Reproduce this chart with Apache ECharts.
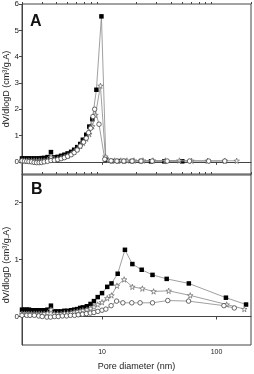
<!DOCTYPE html>
<html><head><meta charset="utf-8">
<script src="https://cdn.jsdelivr.net/npm/echarts@6/dist/echarts.min.js"></script>
<style>html,body{margin:0;padding:0;background:#fff}#c{width:254px;height:374px}</style>
</head><body><div id="c"></div>
<script>
// Panel A: [pore diameter (nm), dV/dlogD]
var squaresA = [[2.0,0.13],[2.1,0.13],[2.2,0.13],[2.3,0.13],[2.42,0.13],[2.55,0.13],[2.68,0.13],[2.82,0.13],[2.96,0.14],[3.12,0.15],[3.34,0.18],[3.58,0.37],[3.83,0.17],[4.1,0.19],[4.39,0.23],[4.69,0.27],[5.01,0.32],[5.37,0.38],[5.71,0.46],[6.07,0.56],[6.45,0.68],[6.8,0.84],[7.28,1.03],[7.74,1.34],[8.23,1.62],[8.93,2.74],[9.88,5.53],[10.8,0.08],[12.2,0.03],[13.8,0.03],[15.6,0.03],[18.3,0.03],[21.9,0.03],[26.8,0.02],[35,0.02],[50.2,0.02]];
var circlesA = [[2.0,0.04],[2.1,0.03],[2.2,0.02],[2.3,0.01],[2.42,0.0],[2.55,-0.02],[2.68,-0.03],[2.82,-0.03],[2.96,-0.02],[3.12,0.0],[3.34,0.02],[3.58,0.05],[3.83,0.06],[4.1,0.09],[4.39,0.12],[4.69,0.16],[5.01,0.21],[5.37,0.27],[5.71,0.35],[6.07,0.45],[6.45,0.6],[6.9,0.75],[7.28,0.9],[7.63,1.11],[7.95,1.28],[8.33,1.72],[8.62,2.0],[9.41,1.43],[10.56,0.1],[12.0,0.04],[13.5,0.03],[15.5,0.03],[18.3,0.03],[21.9,0.03],[27.4,0.03],[37.1,0.03],[58.1,0.03],[85.4,0.03],[118,0.03]];
var starsA = [[2.0,0.05],[2.1,0.05],[2.2,0.05],[2.3,0.05],[2.42,0.05],[2.55,0.05],[2.68,0.05],[2.82,0.05],[2.96,0.05],[3.12,0.05],[3.34,0.08],[3.58,0.18],[3.83,0.1],[4.1,0.12],[4.39,0.15],[4.69,0.19],[5.01,0.24],[5.37,0.3],[5.71,0.38],[6.07,0.48],[6.45,0.6],[6.8,0.72],[7.28,0.88],[7.74,1.05],[8.23,1.35],[8.76,1.78],[9.68,2.89],[10.7,0.2],[11.4,0.06],[12.9,0.05],[14.6,0.05],[16.5,0.05],[19.0,0.05],[22.8,0.05],[27.9,0.05],[35.7,0.05],[47.4,0.05],[60.5,0.04],[83.5,0.04],[118,0.04],[150,0.04]];
// Panel B
var squaresB = [[2.0,0.12],[2.1,0.12],[2.2,0.12],[2.3,0.12],[2.42,0.11],[2.55,0.11],[2.68,0.11],[2.82,0.11],[2.96,0.11],[3.12,0.11],[3.34,0.12],[3.58,0.19],[3.83,0.09],[4.1,0.09],[4.39,0.09],[4.69,0.1],[5.01,0.1],[5.37,0.11],[5.71,0.12],[6.07,0.13],[6.45,0.15],[6.8,0.16],[7.37,0.18],[7.94,0.22],[8.5,0.27],[9.17,0.34],[10,0.41],[11.1,0.52],[12.1,0.58],[13.7,0.75],[15.85,1.17],[18.4,0.92],[22.2,0.82],[27.6,0.73],[36.7,0.66],[57.3,0.58],[120.8,0.33],[181,0.21]];
var starsB = [[2.0,0.05],[2.1,0.05],[2.2,0.05],[2.3,0.05],[2.42,0.05],[2.55,0.05],[2.68,0.05],[2.82,0.05],[2.96,0.05],[3.12,0.05],[3.34,0.06],[3.58,0.12],[3.83,0.05],[4.1,0.05],[4.39,0.05],[4.69,0.06],[5.01,0.06],[5.37,0.07],[5.71,0.08],[6.07,0.09],[6.45,0.1],[6.8,0.11],[7.37,0.12],[7.94,0.14],[8.5,0.17],[9.17,0.21],[10,0.25],[11.1,0.32],[12.1,0.37],[13.5,0.54],[15.6,0.65],[18.4,0.52],[22.5,0.49],[28.2,0.44],[38.2,0.45],[58.9,0.37],[122.6,0.21],[174.8,0.13]];
var circlesB = [[2.0,0.02],[2.2,0.02],[2.35,0.02],[2.56,0.02],[2.8,0.01],[3.0,0.0],[3.3,-0.01],[3.55,-0.01],[3.85,0.0],[4.15,0.0],[4.5,0.01],[4.9,0.01],[5.3,0.02],[5.75,0.02],[6.2,0.03],[6.75,0.04],[7.3,0.05],[7.9,0.06],[8.5,0.07],[9.2,0.09],[10,0.11],[10.8,0.13],[12.0,0.19],[13.4,0.27],[15.2,0.24],[18.2,0.24],[21.5,0.24],[27.6,0.24],[37.5,0.28],[57,0.27],[116,0.19],[143,0.15]];

var xMajor = [10, 100];
var xMinor = [2,3,4,5,6,7,8,9,20,30,40,50,60,70,80,90,200];
var yTicksA = [0,1,2,3,4,5,6];
var yTicksB = [0,1,2];
var yTitle = 'dV/dlogD (cm³/g.A)';

var FONT = 'Liberation Sans, Arial, sans-serif';
var AX = '#444';
var starPath = 'path://M50,0 L61,35 L98,35 L68,57 L79,91 L50,70 L21,91 L32,57 L2,35 L39,35 Z';

function xAxes(gridIndex, showLabels) {
  return [{
    type: 'log', logBase: 10, min: 2, max: 200, gridIndex: gridIndex,
    axisLine: {show: true, lineStyle: {color: AX, width: 1}},
    axisTick: {show: true, customValues: xMajor, length: 3, lineStyle: {color: AX}},
    axisLabel: {show: showLabels, customValues: xMajor, fontSize: 7, color: '#222', fontFamily: FONT, margin: 4},
    splitLine: {show: false}, minorTick: {show: false},
    name: showLabels ? 'Pore diameter (nm)' : '', nameLocation: 'middle', nameGap: 17,
    nameTextStyle: {fontSize: 9, color: '#222', fontFamily: FONT}
  }, {
    type: 'log', logBase: 10, min: 2, max: 200, gridIndex: gridIndex,
    axisLine: {show: false},
    axisTick: {show: true, customValues: xMinor, length: 2, lineStyle: {color: AX}},
    axisLabel: {show: false}, splitLine: {show: false}
  }];
}
function yAxis(gridIndex, min, max, ticks) {
  return {
    type: 'value', min: min, max: max, gridIndex: gridIndex,
    axisLine: {show: true, lineStyle: {color: AX, width: 1}},
    axisTick: {show: true, customValues: ticks, length: 3, lineStyle: {color: AX}},
    axisLabel: {customValues: ticks, fontSize: 8, color: '#222', fontFamily: FONT, margin: 3},
    splitLine: {show: false}
  };
}
function ser(data, kind, xi, yi) {
  var base = {type: 'line', data: data, xAxisIndex: xi, yAxisIndex: yi, silent: true, animation: false,
    lineStyle: {color: '#888', width: 0.8}, z: 2};
  if (kind === 'sq') { base.symbol = 'rect'; base.symbolSize = 4.5; base.itemStyle = {color: '#000', borderWidth: 0}; }
  if (kind === 'ci') { base.symbol = 'circle'; base.symbolSize = 4.5; base.itemStyle = {color: '#fff', borderColor: '#444', borderWidth: 0.8}; base.z = 4; }
  if (kind === 'st') { base.symbol = starPath; base.symbolSize = 5.5; base.itemStyle = {color: '#fff', borderColor: '#666', borderWidth: 0.7}; base.z = 3; }
  return base;
}

var chart = echarts.init(document.getElementById('c'), null, {renderer: 'canvas'});
chart.setOption({
  animation: false,
  grid: [
    {left: 22, top: 4, width: 229, height: 171, show: true, borderColor: AX, borderWidth: 1, backgroundColor: 'transparent', containLabel: false, outerBoundsMode: 'none'},
    {left: 22, top: 174, width: 229, height: 171, show: true, borderColor: AX, borderWidth: 1, backgroundColor: 'transparent', containLabel: false, outerBoundsMode: 'none'}
  ],
  xAxis: xAxes(0, false).concat(xAxes(1, true)),
  yAxis: [yAxis(0, -0.5, 6, yTicksA), yAxis(1, -0.5, 2.5, yTicksB)],
  graphic: [
    {type: 'text', left: 30, top: 14, style: {text: 'A', font: 'bold 16px ' + FONT, fill: '#111'}},
    {type: 'text', left: 31, top: 182, style: {text: 'B', font: 'bold 16px ' + FONT, fill: '#111'}},
    {type: 'text', x: 7, y: 89, rotation: Math.PI / 2, style: {text: yTitle, font: '9px ' + FONT, fill: '#222', align: 'center', verticalAlign: 'middle'}},
    {type: 'text', x: 7, y: 265, rotation: Math.PI / 2, style: {text: yTitle, font: '9px ' + FONT, fill: '#222', align: 'center', verticalAlign: 'middle'}}
  ],
  series: [
    ser(squaresA, 'sq', 0, 0), ser(starsA, 'st', 0, 0), ser(circlesA, 'ci', 0, 0),
    ser(squaresB, 'sq', 2, 1), ser(starsB, 'st', 2, 1), ser(circlesB, 'ci', 2, 1)
  ]
});
</script></body></html>
